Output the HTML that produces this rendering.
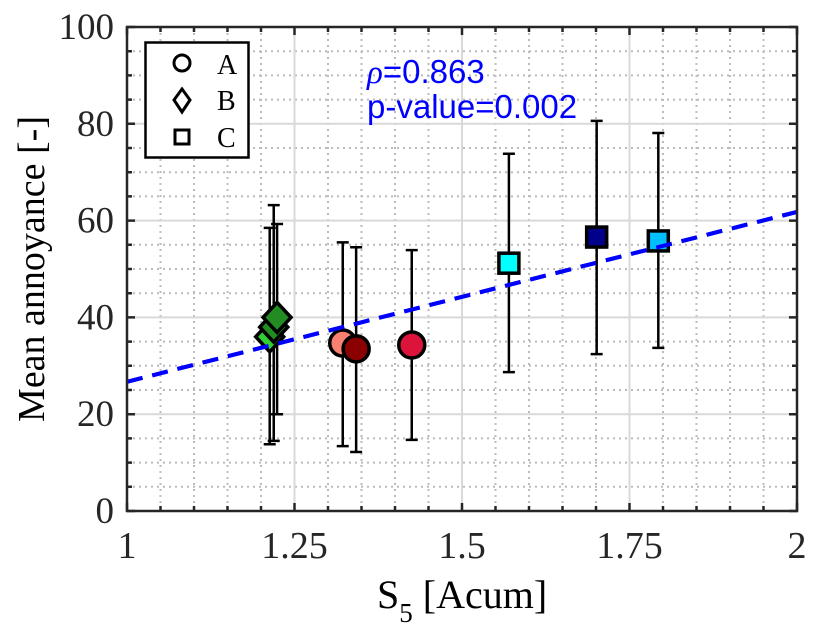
<!DOCTYPE html>
<html><head><meta charset="utf-8"><style>
html,body{margin:0;padding:0;background:#fff;}
svg{display:block;}
.serif{font-family:"Liberation Serif",serif;}
.sans{font-family:"Liberation Sans",sans-serif;}
</style></head><body>
<svg id="chart" width="820" height="641" xmlns="http://www.w3.org/2000/svg">
<g id="grid"></g>
<g id="trend"></g>
<g id="marks"></g>
<g id="axes"></g>
<g>
<rect x="145.5" y="42.5" width="103" height="115" fill="#fff" stroke="#000" stroke-width="2.5"/>
<circle cx="182" cy="63" r="8" fill="none" stroke="#000" stroke-width="3"/>
<text x="217" y="74" class="serif" style="font-size:28px">A</text>
<polygon points="182,89 190,100 182,112 174,100" fill="none" stroke="#000" stroke-width="3"/>
<text x="217" y="110" class="serif" style="font-size:28px">B</text>
<rect x="175" y="130" width="14" height="14" fill="none" stroke="#000" stroke-width="3"/>
<text x="217" y="147" class="serif" style="font-size:28px">C</text>
</g>
<text x="367" y="83" fill="#0000ff" class="sans" style="font-size:33px"><tspan class="serif" font-style="italic">ρ</tspan>=0.863</text>
<text x="367" y="118" fill="#0000ff" class="sans" style="font-size:33px">p-value=0.002</text>
<text x="377" y="608" class="serif" style="font-size:40px">S<tspan style="font-size:27px" dy="14">5</tspan><tspan dy="-14"> [Acum]</tspan></text>
<text transform="translate(44,269) rotate(-90)" text-anchor="middle" class="serif" style="font-size:38px">Mean annoyance [-]</text>
</svg>
<script>
const groups = ['B','B','B','A','A','A','C','C','C'];
const xVals = [1.213, 1.219, 1.224, 1.322, 1.342, 1.425, 1.570, 1.701, 1.793];
const yVals = [36, 38, 40, 34.7, 33.5, 34.3, 51.2, 56.6, 55.8];
const errLow = [13.8, 14.5, 20, 13.4, 12.2, 14.7, 28.7, 32.4, 33.7];
const errHigh = [58.5, 63.2, 59.3, 55.5, 54.5, 53.9, 73.8, 80.6, 78.1];
const colors = ['#32cd32','#228b22','#228b22','#fa8072','#8b0000','#dc143c','#00ffff','#00008b','#00bfff'];
const xTicks = [1, 1.25, 1.5, 1.75, 2];
const xTickLabels = ['1','1.25','1.5','1.75','2'];
const yTicks = [0, 20, 40, 60, 80, 100];
const trendX = [1, 2];
const trendY = [26.7, 61.8];

const L=127,R=797,T=27,B=511;
const sx=v=>L+(v-1)/(2-1)*(R-L);
const sy=v=>B-(v-0)/100*(B-T);
const NS='http://www.w3.org/2000/svg';
function mk(parent,tag,attrs){const e=document.createElementNS(NS,tag);for(const k in attrs)e.setAttribute(k,attrs[k]);parent.appendChild(e);return e;}
const grid=document.getElementById('grid'),axes=document.getElementById('axes'),marks=document.getElementById('marks'),trend=document.getElementById('trend');

for(let i=1;i<20;i++){const v=1+i*0.05;if(i%5===0)continue;
 const g=mk(grid,'line',{x1:sx(v),x2:sx(v),y1:T,y2:B,stroke:'#bbb','stroke-width':2,'stroke-dasharray':'2,4'});
 }
for(let i=1;i<20;i++){const v=i*5;if(i%4===0)continue;
 const g=mk(grid,'line',{x1:L,x2:R,y1:sy(v),y2:sy(v),stroke:'#bbb','stroke-width':2,'stroke-dasharray':'2,4'});
 }
xTicks.forEach(v=>{const g=mk(grid,'line',{x1:sx(v),x2:sx(v),y1:T,y2:B,stroke:'#d9d9d9','stroke-width':2});
 });
yTicks.forEach(v=>{const g=mk(grid,'line',{x1:L,x2:R,y1:sy(v),y2:sy(v),stroke:'#d9d9d9','stroke-width':2});
 });

const tl=mk(trend,'line',{x1:sx(trendX[0]),y1:sy(trendY[0]),x2:sx(trendX[1]),y2:sy(trendY[1]),stroke:'#0000ff','stroke-width':4,'stroke-dasharray':'16,10'});


xVals.forEach((xv,i)=>{
 const x=sx(xv),y1=sy(errLow[i]),y2=sy(errHigh[i]);
 const eb=mk(marks,'path',{d:`M${x},${y1}V${y2}M${x-6},${y1}H${x+6}M${x-6},${y2}H${x+6}`,stroke:'#000','stroke-width':2.5,fill:'none'});
 
});
xVals.forEach((xv,i)=>{
 const x=sx(xv),y=sy(yVals[i]);let m;
 if(groups[i]==='A'){m=mk(marks,'circle',{cx:x,cy:y,r:13,fill:colors[i],stroke:'#000','stroke-width':3.5});}
 else if(groups[i]==='B'){m=mk(marks,'polygon',{points:`${x},${y-15} ${x+14},${y} ${x},${y+15} ${x-14},${y}`,fill:colors[i],stroke:'#000','stroke-width':3.5});}
 else {m=mk(marks,'rect',{x:x-10,y:y-10,width:20,height:20,fill:colors[i],stroke:'#000','stroke-width':3.5});}
 
});
const tl2=tl.cloneNode();

marks.appendChild(tl2);

const fr=mk(axes,'rect',{x:L,y:T,width:R-L,height:B-T,fill:'none',stroke:'#262626','stroke-width':2.5});

for(let i=0;i<=20;i++){const v=1+i*0.05,len=i%5===0?8:5;
 const t=mk(axes,'path',{d:`M${sx(v)},${B}v${-len}M${sx(v)},${T}v${len}`,stroke:'#262626','stroke-width':2.5});
 }
for(let i=0;i<=20;i++){const v=i*5,len=i%4===0?8:5;
 const t=mk(axes,'path',{d:`M${L},${sy(v)}h${len}M${R},${sy(v)}h${-len}`,stroke:'#262626','stroke-width':2.5});
 }
xTicks.forEach((v,i)=>{const t=mk(axes,'text',{x:sx(v),y:B+47,'text-anchor':'middle',class:'serif',style:'font-size:38px',fill:'#262626'});
 t.textContent=xTickLabels[i];});
yTicks.forEach(v=>{const t=mk(axes,'text',{x:L-13,y:sy(v)+12,'text-anchor':'end',class:'serif',style:'font-size:37px',fill:'#262626'});
 t.textContent=String(v);});
</script>
</body></html>
